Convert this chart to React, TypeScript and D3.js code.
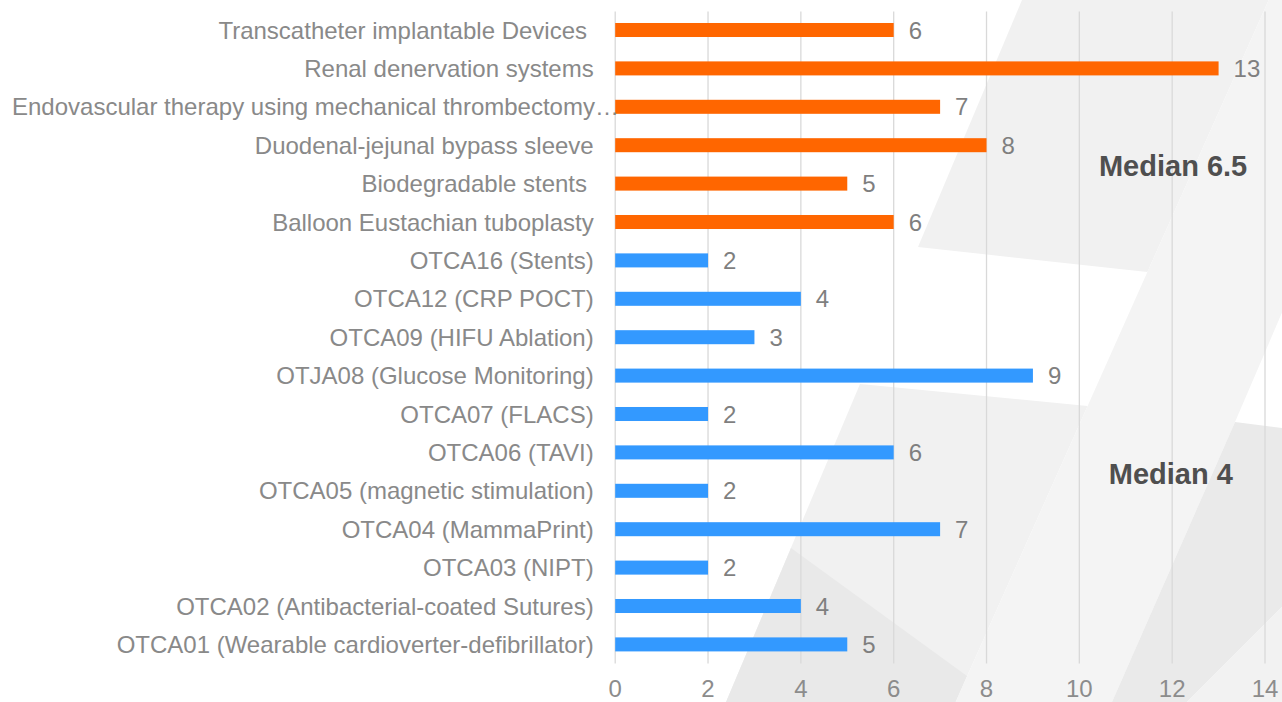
import React from "react";
import * as d3 from "d3";

const categories: string[] = [
  "Transcatheter implantable Devices ",
  "Renal denervation systems",
  "Endovascular therapy using mechanical thrombectomy…",
  "Duodenal-jejunal bypass sleeve",
  "Biodegradable stents ",
  "Balloon Eustachian tuboplasty",
  "OTCA16 (Stents)",
  "OTCA12 (CRP POCT)",
  "OTCA09 (HIFU Ablation)",
  "OTJA08 (Glucose Monitoring)",
  "OTCA07 (FLACS)",
  "OTCA06 (TAVI)",
  "OTCA05 (magnetic stimulation)",
  "OTCA04 (MammaPrint)",
  "OTCA03 (NIPT)",
  "OTCA02 (Antibacterial-coated Sutures)",
  "OTCA01 (Wearable cardioverter-defibrillator)",
];

const values: number[] = [6, 13, 7, 8, 5, 6, 2, 4, 3, 9, 2, 6, 2, 7, 2, 4, 5];

const groups: string[] = [
  "new", "new", "new", "new", "new", "new",
  "otca", "otca", "otca", "otca", "otca", "otca", "otca", "otca", "otca", "otca", "otca",
];

const xTicks: number[] = [0, 2, 4, 6, 8, 10, 12, 14];

const medianLabels: { text: string; group: string; at: number }[] = [
  { text: "Median 6.5", group: "new", at: 12.02 },
  { text: "Median 4", group: "otca", at: 11.97 },
];

const W = 1282;
const H = 702;
const FONT = "'Liberation Sans', Arial, Helvetica, sans-serif";

// decorative slide background shapes
const bgShapes: { pts: [number, number][]; fill: string }[] = [
  { pts: [[1022, 0], [1268.7, 0], [1147.4, 272], [918, 247]], fill: "#f1f1f1" },
  { pts: [[860, 384], [1087.6, 406], [955.6, 702], [726, 702]], fill: "#f1f1f1" },
  { pts: [[791, 548], [967, 676], [955.6, 702], [726, 702]], fill: "#e9e9e9" },
  { pts: [[1268.7, 0], [1282, 0], [1282, 312.6], [1235, 422], [1112, 702], [955.6, 702]], fill: "#f4f4f4" },
  { pts: [[1235, 422], [1282, 428], [1282, 607], [1187, 702], [1112, 702]], fill: "#eaeaea" },
  { pts: [[1282, 607], [1282, 702], [1187, 702]], fill: "#f2f2f2" },
];

export default function App() {
  const x = d3.scaleLinear().domain([0, 14]).range([615.2, 1265]);
  const y = d3
    .scaleBand<string>()
    .domain(categories)
    .range([10.8, 663.6])
    .paddingInner(0.635)
    .paddingOuter(0.3175);
  const color = d3.scaleOrdinal<string, string>().domain(["new", "otca"]).range(["#ff6600", "#3399ff"]);

  const medianY: Record<string, number> = {
    new: 176,
    otca: 484,
  };

  const labelRight = x(0) - 21.5;
  const line = d3.line();

  return (
    <svg
      width={W}
      height={H}
      style={{ position: "absolute", left: 0, top: 0, background: "#ffffff" }}
      fontFamily={FONT}
    >
      <rect x={0} y={0} width={W} height={H} fill="#ffffff" />
      {bgShapes.map((s, i) => (
        <path key={i} d={line(s.pts)! + "Z"} fill={s.fill} />
      ))}

      {xTicks.map((t) => (
        <line
          key={t}
          x1={x(t)}
          x2={x(t)}
          y1={11.5}
          y2={663.5}
          stroke="#d9d9d9"
          strokeWidth={1.3}
        />
      ))}

      {categories.map((c, i) => (
        <rect
          key={c}
          x={x(0)}
          y={y(c)!}
          width={x(values[i]) - x(0)}
          height={y.bandwidth()}
          fill={color(groups[i])}
        />
      ))}

      {categories.map((c, i) => (
        <text
          key={c}
          x={x(values[i]) + 15}
          y={y(c)! + y.bandwidth() / 2}
          dy="0.36em"
          fontSize={24}
          fill="#7f7f7f"
        >
          {values[i]}
        </text>
      ))}

      {categories.map((c) => {
        const truncated = c.endsWith("…");
        return (
          <text
            key={c}
            x={truncated ? 12 : labelRight}
            y={y(c)! + y.bandwidth() / 2}
            dy="0.36em"
            fontSize={24}
            fill="#898989"
            textAnchor={truncated ? "start" : "end"}
            style={{ whiteSpace: "pre" }}
          >
            {c}
          </text>
        );
      })}

      {xTicks.map((t) => (
        <text key={t} x={x(t)} y={697} fontSize={24} fill="#8c8c8c" textAnchor="middle">
          {t}
        </text>
      ))}

      {medianLabels.map((m) => (
        <text
          key={m.text}
          x={x(m.at)}
          y={medianY[m.group]}
          fontSize={29}
          fontWeight="bold"
          fill="#4f4f4f"
          textAnchor="middle"
        >
          {m.text}
        </text>
      ))}
    </svg>
  );
}
